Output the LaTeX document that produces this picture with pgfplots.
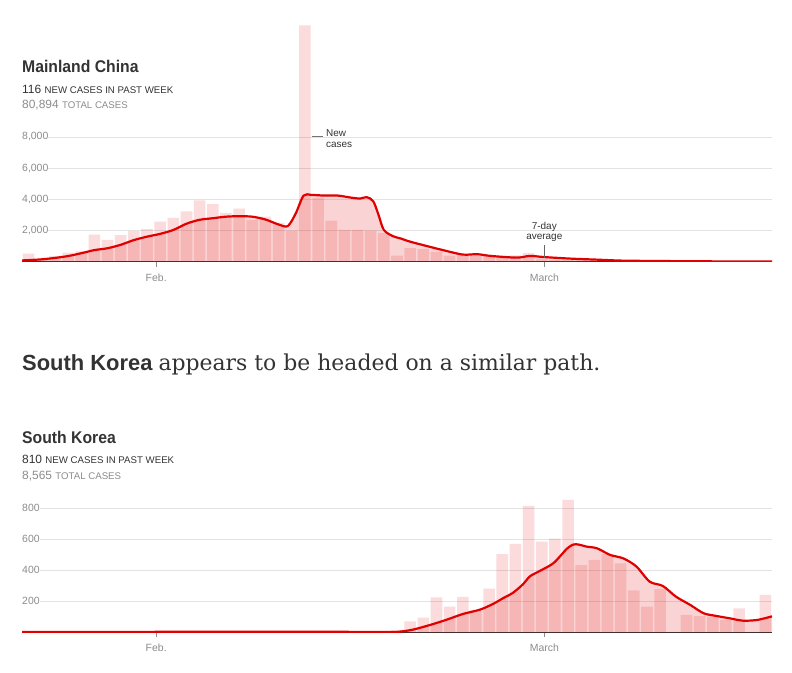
\documentclass[border=0pt]{standalone}
\usepackage{fontspec}
\setmainfont{Liberation Sans}
\newfontfamily\franklin[FakeStretch=0.93]{Liberation Sans}
\newfontfamily\chelt{DejaVu Serif}
\usepackage{pgfplots}
\usepackage{pgfplotstable}
\pgfplotsset{compat=1.18}
\definecolor{nytred}{RGB}{224,0,0}
\definecolor{txt}{RGB}{51,51,51}
\definecolor{gtxt}{RGB}{140,140,140}

\pgfplotstableread{
x y
0 540
1 170
2 380
3 600
4 680
5 1750
6 1420
7 1720
8 1980
9 2100
10 2590
11 2830
12 3240
13 3950
14 3700
15 3150
16 3420
17 2700
18 2900
19 2500
20 2000
21 15150
22 4100
23 2650
24 2050
25 2050
26 2000
27 1850
28 400
29 890
30 820
31 650
32 400
33 500
34 410
35 430
36 330
37 430
38 570
39 200
40 125
41 120
42 140
43 145
44 100
45 45
46 40
47 20
48 25
49 15
50 10
51 12
52 20
53 16
54 20
55 13
56 34
}\chinabars

\pgfplotstableread{
x y
-0.5 100
0 120
1 170
2 260
3 380
4 560
5 760
6 880
7 1100
8 1400
9 1620
10 1800
11 2050
12 2450
13 2700
14 2800
15 2900
16 2930
17 2900
18 2720
19 2400
19.7 2300
20.3 3100
20.9 4250
21.5 4290
22.5 4250
23.5 4250
24.5 4120
25.2 4060
25.7 4150
26.2 3880
26.6 3000
27 2050
27.7 1650
28.3 1500
29 1300
30.5 970
31.5 760
33 475
34.1 500
35.1 390
37.1 280
38.1 390
39.1 320
41.2 215
43.2 150
45.2 85
47.8 65
50.3 45
52.8 40
56.5 40
}\chinaavg

\pgfplotstableread{
x y
0 1
1 0
2 1
3 0
4 0
5 1
6 0
7 0
8 0
9 1
10 1
11 2
12 1
13 0
14 1
15 3
16 1
17 0
18 0
19 0
20 1
21 4
22 0
23 0
24 0
25 0
26 1
27 1
28 15
29 70
30 95
31 226
32 166
33 228
34 145
35 282
36 505
37 570
38 815
39 585
40 604
41 854
42 434
43 467
44 505
45 445
46 271
47 166
48 280
49 0
50 112
51 105
52 101
53 80
54 155
55 0
56 241
}\koreabars

\pgfplotstableread{
x y
-0.5 2
5 2
10 3
12 4
15 4
18 3
21 4
24 3
27.5 2
28.2 4
29.2 17
30.5 47
31.8 82
33 118
34.3 146
35.3 183
36.1 222
36.8 254
37.6 312
38.1 361
38.9 398
39.9 447
40.9 538
41.4 566
41.8 566
42.4 553
43.2 542
44.2 499
45.2 477
46.2 424
47.2 327
48.2 299
49.2 230
50.3 176
51.3 123
52.3 105
53.3 90
54.3 75
55.4 80
56.5 103
}\koreaavg

\pgfplotsset{casestyle/.style={
  scale only axis, width=750bp,
  xmin=-0.5, xmax=56.5, ymin=0,
  scaled y ticks=false,
  axis lines*=left,
  y axis line style={draw=none},
  x axis line style={draw=txt, line width=1pt},
  ymajorgrids, grid style={draw=black!11, line width=0.7pt},
  ytick style={draw=none},
  xtick={9.7,39.2}, xticklabels={Feb.,March},
  xtick style={draw=black!45, line width=0.7pt},
  major tick length=5bp, tick align=outside,
  tick label style={font=\fontsize{10.5}{12}\selectfont, text=gtxt},
  yticklabel style={anchor=west, fill=white, inner xsep=0pt, inner ysep=1.5pt, xshift=5bp},
  xticklabel style={yshift=-3bp},
}}

\begin{document}
\begin{tikzpicture}[x=1bp,y=1bp]
\path[use as bounding box] (0,0) rectangle (792,673);

\begin{axis}[casestyle, at={(22bp,411bp)}, anchor=south west,
  height=237bp, ymax=15168,
  ytick={2000,4000,6000,8000},
  yticklabels={{2,000\hspace{4bp}},{4,000\hspace{4bp}},{6,000\hspace{4bp}},{8,000\hspace{4bp}}}]
\addplot[ybar, bar width=0.88, bar shift=0pt, fill=nytred, fill opacity=0.14, draw=none] table {\chinabars};
\addplot[smooth, fill=nytred, fill opacity=0.17, draw=none] table {\chinaavg} \closedcycle;
\addplot[smooth, draw=nytred, line width=2.2bp] table {\chinaavg};
\end{axis}

\begin{axis}[casestyle, at={(22bp,40.7bp)}, anchor=south west,
  height=139.5bp, ymax=900,
  ytick={200,400,600,800},
  yticklabels={{200\hspace{4bp}},{400\hspace{4bp}},{600\hspace{4bp}},{800\hspace{4bp}}}]
\addplot[ybar, bar width=0.88, bar shift=0pt, fill=nytred, fill opacity=0.14, draw=none] table {\koreabars};
\addplot[smooth, fill=nytred, fill opacity=0.17, draw=none] table {\koreaavg} \closedcycle;
\addplot[smooth, draw=nytred, line width=2.2bp] table {\koreaavg};
\end{axis}

% annotations top chart
\draw[black!55, line width=1pt] (311.7,536) -- (323.3,536);
\node[anchor=base west, inner sep=0pt, text=txt, font=\fontsize{10}{11}\selectfont] at (326,536.3) {New};
\node[anchor=base west, inner sep=0pt, text=txt, font=\fontsize{10}{11}\selectfont] at (326,525.3) {cases};
\node[anchor=base, inner sep=0pt, text=txt, font=\fontsize{10}{11}\selectfont] at (544.3,443.7) {7-day};
\node[anchor=base, inner sep=0pt, text=txt, font=\fontsize{10}{11}\selectfont] at (544.3,433.5) {average};
\draw[black!60, line width=0.8pt] (544.3,428) -- (544.3,414.7);

% titles
\node[anchor=base west, inner sep=0pt, text=txt, font=\franklin\bfseries\fontsize{17}{20}\selectfont] at (22,600.3) {Mainland China};
\node[anchor=base west, inner sep=0pt, text=txt] at (22,579.7) {\fontsize{12}{14}\selectfont 116 \fontsize{9.7}{12}\selectfont NEW CASES IN PAST WEEK};
\node[anchor=base west, inner sep=0pt, text=gtxt] at (22,564.7) {\fontsize{12}{14}\selectfont 80,894 \fontsize{9.7}{12}\selectfont TOTAL CASES};

\node[anchor=base west, inner sep=0pt, text=txt] at (22,302) {\fontsize{22}{26}\selectfont\bfseries South Korea \mdseries\chelt appears to be headed on a similar path.};

\node[anchor=base west, inner sep=0pt, text=txt, font=\franklin\bfseries\fontsize{17}{20}\selectfont] at (22,229) {South Korea};
\node[anchor=base west, inner sep=0pt, text=txt] at (22,209) {\fontsize{12}{14}\selectfont 810 \fontsize{9.7}{12}\selectfont NEW CASES IN PAST WEEK};
\node[anchor=base west, inner sep=0pt, text=gtxt] at (22,193.7) {\fontsize{12}{14}\selectfont 8,565 \fontsize{9.7}{12}\selectfont TOTAL CASES};
\end{tikzpicture}
\end{document}
